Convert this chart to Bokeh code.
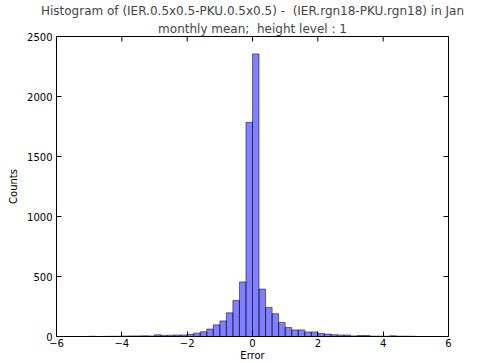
import math
from bokeh.plotting import figure
from bokeh.models import FixedTicker, Title
from bokeh.embed import file_html
from bokeh.resources import INLINE

# histogram bins (left edges, width 0.2) and counts
bin_left = [-5.0, -4.8, -4.6, -4.4, -4.2, -4.0, -3.8, -3.6, -3.4, -3.2,
            -3.0, -2.8, -2.6, -2.4, -2.2, -2.0, -1.8, -1.6, -1.4, -1.2,
            -1.0, -0.8, -0.6, -0.4, -0.2, 0.0, 0.2, 0.4, 0.6, 0.8,
            1.0, 1.2, 1.4, 1.6, 1.8, 2.0, 2.2, 2.4, 2.6, 2.8,
            3.0, 3.2, 3.4, 3.6, 3.8, 4.0, 4.2, 4.4, 4.6, 4.8]
bin_width = 0.2
counts = [2, 0, 1, 2, 2, 4, 5, 5, 6, 5,
          14, 9, 11, 12, 13, 18, 28, 40, 62, 97,
          130, 197, 301, 455, 1785, 2355, 395, 242, 190, 117,
          75, 55, 55, 38, 38, 25, 20, 15, 13, 12,
          5, 8, 8, 3, 3, 2, 6, 3, 3, 2]

x_ticks = [-6, -4, -2, 0, 2, 4, 6]
y_ticks = [0, 500, 1000, 1500, 2000, 2500]
x_min, x_max = -6, 6
y_min, y_max = 0, 2500
title_line1 = "Histogram of (IER.0.5x0.5-PKU.0.5x0.5) -\u00a0\u00a0(IER.rgn18-PKU.rgn18) in Jan"
title_line2 = "monthly mean;\u00a0\u00a0height level : 1"
x_label = "Error"
y_label = "Counts"

FONT = "DejaVu Sans"

p = figure(width=487, height=363, x_range=(x_min, x_max), y_range=(y_min, y_max),
           output_backend="svg", toolbar_location=None,
           min_border_left=56, min_border_right=39, min_border_top=5, min_border_bottom=10)

p.title.text = title_line1
p.title.align = "center"
p.title.text_font = FONT
p.title.text_font_size = "12px"
p.title.text_font_style = "normal"
p.title.standoff = 2
p.add_layout(Title(text=title_line2, align="center", text_font=FONT,
                   text_font_size="12px", text_font_style="normal", standoff=2), "above")

right = [l + bin_width for l in bin_left]
p.quad(left=bin_left, right=right, bottom=0, top=counts,
       fill_color="blue", fill_alpha=0.5, line_color="black", line_alpha=0.5, line_width=1)

# mirrored inward ticks on top and right edges (clipped to the frame)
p.scatter(x=x_ticks, y=[y_max] * len(x_ticks), marker="dash", angle=math.pi / 2,
          size=10, line_color="black", line_width=1)
p.scatter(x=[x_max] * len(y_ticks), y=y_ticks, marker="dash",
          size=10, line_color="black", line_width=1)

p.grid.visible = False
p.outline_line_color = "black"
p.outline_line_width = 1
p.background_fill_color = "white"
p.border_fill_color = "white"

minus = lambda v: str(v).replace("-", "\u2212")
p.xaxis.ticker = FixedTicker(ticks=x_ticks)
p.xaxis.major_label_overrides = {t: minus(t) for t in x_ticks}
p.yaxis.ticker = FixedTicker(ticks=y_ticks)

for ax in (p.xaxis[0], p.yaxis[0]):
    ax.axis_line_color = None
    ax.major_tick_in = 5
    ax.major_tick_out = 0
    ax.minor_tick_line_color = None
    ax.major_tick_line_color = "black"
    ax.major_label_text_font = FONT
    ax.major_label_text_font_size = "10px"
    ax.major_label_text_color = "black"
    ax.axis_label_text_font = FONT
    ax.axis_label_text_font_size = "10px"
    ax.axis_label_text_font_style = "normal"
    ax.axis_label_text_color = "black"

p.xaxis.axis_label = x_label
p.yaxis.axis_label = y_label
p.xaxis.major_label_standoff = 2
p.xaxis.axis_label_standoff = 0
p.yaxis.major_label_standoff = 4
p.yaxis.axis_label_standoff = 5

open("out.html", "w").write(file_html(p, INLINE))
